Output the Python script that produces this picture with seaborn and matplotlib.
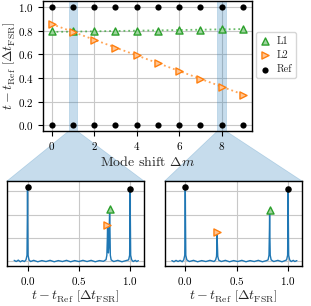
import matplotlib
matplotlib.use("Agg")
import matplotlib.pyplot as plt
import seaborn as sns
from matplotlib.patches import Polygon

# ---------------- data ----------------
mode_shift = [0, 1, 2, 3, 4, 5, 6, 7, 8, 9]
l1_delay = [0.795, 0.795, 0.795, 0.798, 0.80, 0.80, 0.805, 0.808, 0.815, 0.82]
l2_delay = [0.856, 0.794, 0.72, 0.658, 0.593, 0.531, 0.463, 0.393, 0.325, 0.257]
ref_low = [0.0] * 10
ref_high = [1.0] * 10
zoom_shifts = [1, 8]
top_xticks = [0, 2, 4, 6, 8]
top_yticks = [0.0, 0.2, 0.4, 0.6, 0.8, 1.0]
inset_xticks = [0.0, 0.5, 1.0]

# inset traces (delta m = 1 and delta m = 8)
left_t = [-0.13, -0.11, -0.09, -0.07, -0.05, -0.03, -0.015,
          -0.005, -0.0015, 0.0, 0.0015, 0.005, 0.015,
          0.03, 0.06, 0.10, 0.14, 0.18, 0.22, 0.26, 0.30, 0.34, 0.38, 0.42, 0.46,
          0.50, 0.54, 0.58, 0.62, 0.66, 0.70, 0.74, 0.765,
          0.773, 0.778, 0.78, 0.783, 0.788, 0.793, 0.797, 0.80, 0.803, 0.807, 0.815,
          0.84, 0.88, 0.92, 0.96, 0.985,
          0.995, 0.9985, 1.0, 1.0015, 1.005, 1.015,
          1.03, 1.05, 1.065, 1.08]
left_v = [0.03, -0.02, 0.04, -0.03, 0.02, -0.02, 0.05,
          0.25, 2.0, 3.2, 2.0, 0.25, 0.05,
          -0.02, 0.03, -0.03, 0.02, -0.02, 0.03, -0.03, 0.02, -0.02, 0.03, -0.03, 0.02,
          -0.02, 0.03, -0.02, 0.03, -0.03, 0.02, -0.01, 0.06,
          0.25, 1.0, 1.55, 1.0, 0.35, 0.6, 1.5, 2.25, 1.5, 0.25, 0.05,
          -0.02, 0.03, -0.03, 0.02, 0.05,
          0.25, 2.0, 3.1, 2.0, 0.25, 0.05,
          -0.02, 0.03, -0.02, 0.02]
right_t = [-0.13, -0.11, -0.09, -0.07, -0.05, -0.03, -0.015,
           -0.005, -0.0015, 0.0, 0.0015, 0.005, 0.015,
           0.04, 0.08, 0.12, 0.16, 0.20, 0.24, 0.28, 0.295,
           0.304, 0.3085, 0.31, 0.3115, 0.316, 0.325,
           0.35, 0.39, 0.43, 0.47, 0.51, 0.55, 0.59, 0.63, 0.67, 0.71, 0.75, 0.79, 0.805,
           0.814, 0.8185, 0.82, 0.8215, 0.826, 0.835,
           0.86, 0.90, 0.94, 0.97, 0.985,
           0.995, 0.9985, 1.0, 1.0015, 1.005, 1.015,
           1.03, 1.05, 1.065, 1.085]
right_v = [0.02, -0.03, 0.03, -0.02, 0.03, -0.03, 0.05,
           0.25, 2.0, 3.2, 2.0, 0.25, 0.05,
           -0.02, 0.03, -0.03, 0.02, -0.02, 0.03, -0.02, 0.05,
           0.2, 0.8, 1.27, 0.8, 0.2, 0.04,
           -0.02, 0.03, -0.03, 0.02, -0.02, 0.03, -0.03, 0.02, -0.02, 0.03, -0.03, 0.02, 0.05,
           0.25, 1.4, 2.2, 1.4, 0.25, 0.05,
           -0.02, 0.03, -0.03, 0.02, 0.05,
           0.25, 2.0, 3.12, 2.0, 0.25, 0.05,
           -0.02, 0.03, -0.02, 0.02]

left_ref_t, left_ref_v = [0.0, 1.0], [3.2, 3.1]
left_l1_t, left_l1_v = [0.80], [2.25]
left_l2_t, left_l2_v = [0.775], [1.55]
right_ref_t, right_ref_v = [0.0, 1.0], [3.2, 3.12]
right_l1_t, right_l1_v = [0.82], [2.2]
right_l2_t, right_l2_v = [0.31], [1.27]

# ---------------- style ----------------
sns.set_style("ticks")
plt.rcParams.update({
    "font.family": "serif",
    "font.serif": ["cmr10"],
    "mathtext.fontset": "cm",
    "axes.formatter.use_mathtext": True,
    "axes.unicode_minus": False,
    "font.size": 8,
    "xtick.labelsize": 8,
    "ytick.labelsize": 8,
    "axes.labelsize": 10,
    "axes.edgecolor": "black",
    "axes.linewidth": 1.0,
    "xtick.color": "black",
    "ytick.color": "black",
    "xtick.major.size": 3.5,
    "ytick.major.size": 3.5,
    "xtick.major.pad": 3.0,
    "ytick.major.pad": 3.0,
})

GREEN, ORANGE, BLUE = "#2ca02c", "#ff7f0e", "#1f77b4"
LGREEN, LORANGE = "#a0d4a0", "#ffc593"
GRID = "#c8c8c8"

fig = plt.figure(figsize=(3.11, 3.06), dpi=100)
ax = fig.add_axes([0.1383, 0.5719, 0.672, 0.4235])
ax_l = fig.add_axes([0.0225, 0.1317, 0.4405, 0.2768])
ax_r = fig.add_axes([0.5296, 0.1317, 0.4415, 0.2768])

# ---------------- top axes ----------------
ax.set_axisbelow(True)
ax.grid(True, color=GRID, lw=0.8)
for c in zoom_shifts:
    ax.axvspan(c - 0.2, c + 0.2, facecolor=BLUE, alpha=0.25, edgecolor=BLUE, lw=0.5, zorder=1)

sns.regplot(x=mode_shift, y=l1_delay, ax=ax, scatter=False, ci=None, color=GREEN,
            line_kws=dict(ls=":", lw=1.3, alpha=0.7, zorder=2))
sns.regplot(x=mode_shift, y=l2_delay, ax=ax, scatter=False, ci=None, color=ORANGE,
            line_kws=dict(ls=":", lw=1.3, alpha=0.7, zorder=2))

sns.scatterplot(x=mode_shift, y=l1_delay, ax=ax, marker="^", s=26, color=LGREEN,
                edgecolor=GREEN, linewidth=1.0, label="L1", zorder=3)
sns.scatterplot(x=mode_shift, y=l2_delay, ax=ax, marker=">", s=26, color=LORANGE,
                edgecolor=ORANGE, linewidth=1.0, label="L2", zorder=3)
sns.scatterplot(x=mode_shift + mode_shift, y=ref_low + ref_high, ax=ax, marker="o", s=20,
                color="black", edgecolor="black", linewidth=0, label="Ref", zorder=3)

ax.set_xlim(-0.41, 9.43)
ax.set_ylim(-0.05, 1.05)
ax.set_xticks(top_xticks)
ax.set_yticks(top_yticks)
ax.set_xlabel(r"Mode shift $\Delta m$", labelpad=2)
ax.set_ylabel(r"$t - t_\mathrm{Ref}\ \left[\Delta t_\mathrm{FSR}\right]$", labelpad=1)
for s in ax.spines.values():
    s.set_visible(True)
ax.legend(loc="upper left", bbox_to_anchor=(1.019, 0.762), borderaxespad=0,
          fontsize=7.5, handlelength=1.0, handletextpad=0.55, borderpad=0.4,
          labelspacing=0.45, scatterpoints=1, frameon=True)

# ---------------- insets ----------------
def inset(a, t, v, rt, rv, g_t, g_v, o_t, o_v):
    a.set_axisbelow(True)
    a.grid(True, color=GRID, lw=0.8)
    sns.lineplot(x=t, y=v, ax=a, color=BLUE, lw=1.0, sort=False, zorder=2)
    sns.scatterplot(x=rt, y=rv, ax=a, marker="o", s=22, color="black",
                    edgecolor="black", linewidth=0, zorder=3)
    sns.scatterplot(x=g_t, y=g_v, ax=a, marker="^", s=26, color=LGREEN,
                    edgecolor=GREEN, linewidth=1.0, zorder=3)
    sns.scatterplot(x=o_t, y=o_v, ax=a, marker=">", s=26, color=LORANGE,
                    edgecolor=ORANGE, linewidth=1.0, zorder=3)
    a.set_xlim(-0.2, 1.135)
    a.set_ylim(-0.2, 3.45)
    a.set_xticks(inset_xticks)
    a.set_yticks([0, 1, 2, 3])
    a.set_yticklabels([])
    a.tick_params(axis="y", length=0)
    a.set_xlabel(r"$t - t_\mathrm{Ref}\ \left[\Delta t_\mathrm{FSR}\right]$", labelpad=1)
    a.set_ylabel("")
    for s in a.spines.values():
        s.set_visible(True)

inset(ax_l, left_t, left_v, left_ref_t, left_ref_v, left_l1_t, left_l1_v, left_l2_t, left_l2_v)
inset(ax_r, right_t, right_v, right_ref_t, right_ref_v, right_l1_t, right_l1_v, right_l2_t, right_l2_v)

# ---------------- connectors ----------------
inv = fig.transFigure.inverted()
for c, a in zip(zoom_shifts, [ax_l, ax_r]):
    tr = ax.get_xaxis_transform()
    p0 = inv.transform(tr.transform((c - 0.2, 0)))
    p1 = inv.transform(tr.transform((c + 0.2, 0)))
    bb = a.get_position()
    poly = Polygon([p0, p1, (bb.x1, bb.y1), (bb.x0, bb.y1)], closed=True,
                   transform=fig.transFigure, facecolor=BLUE, alpha=0.25,
                   edgecolor=BLUE, lw=0.5, zorder=-1)
    fig.add_artist(poly)

fig.savefig("out.png", dpi=100, facecolor="white")
